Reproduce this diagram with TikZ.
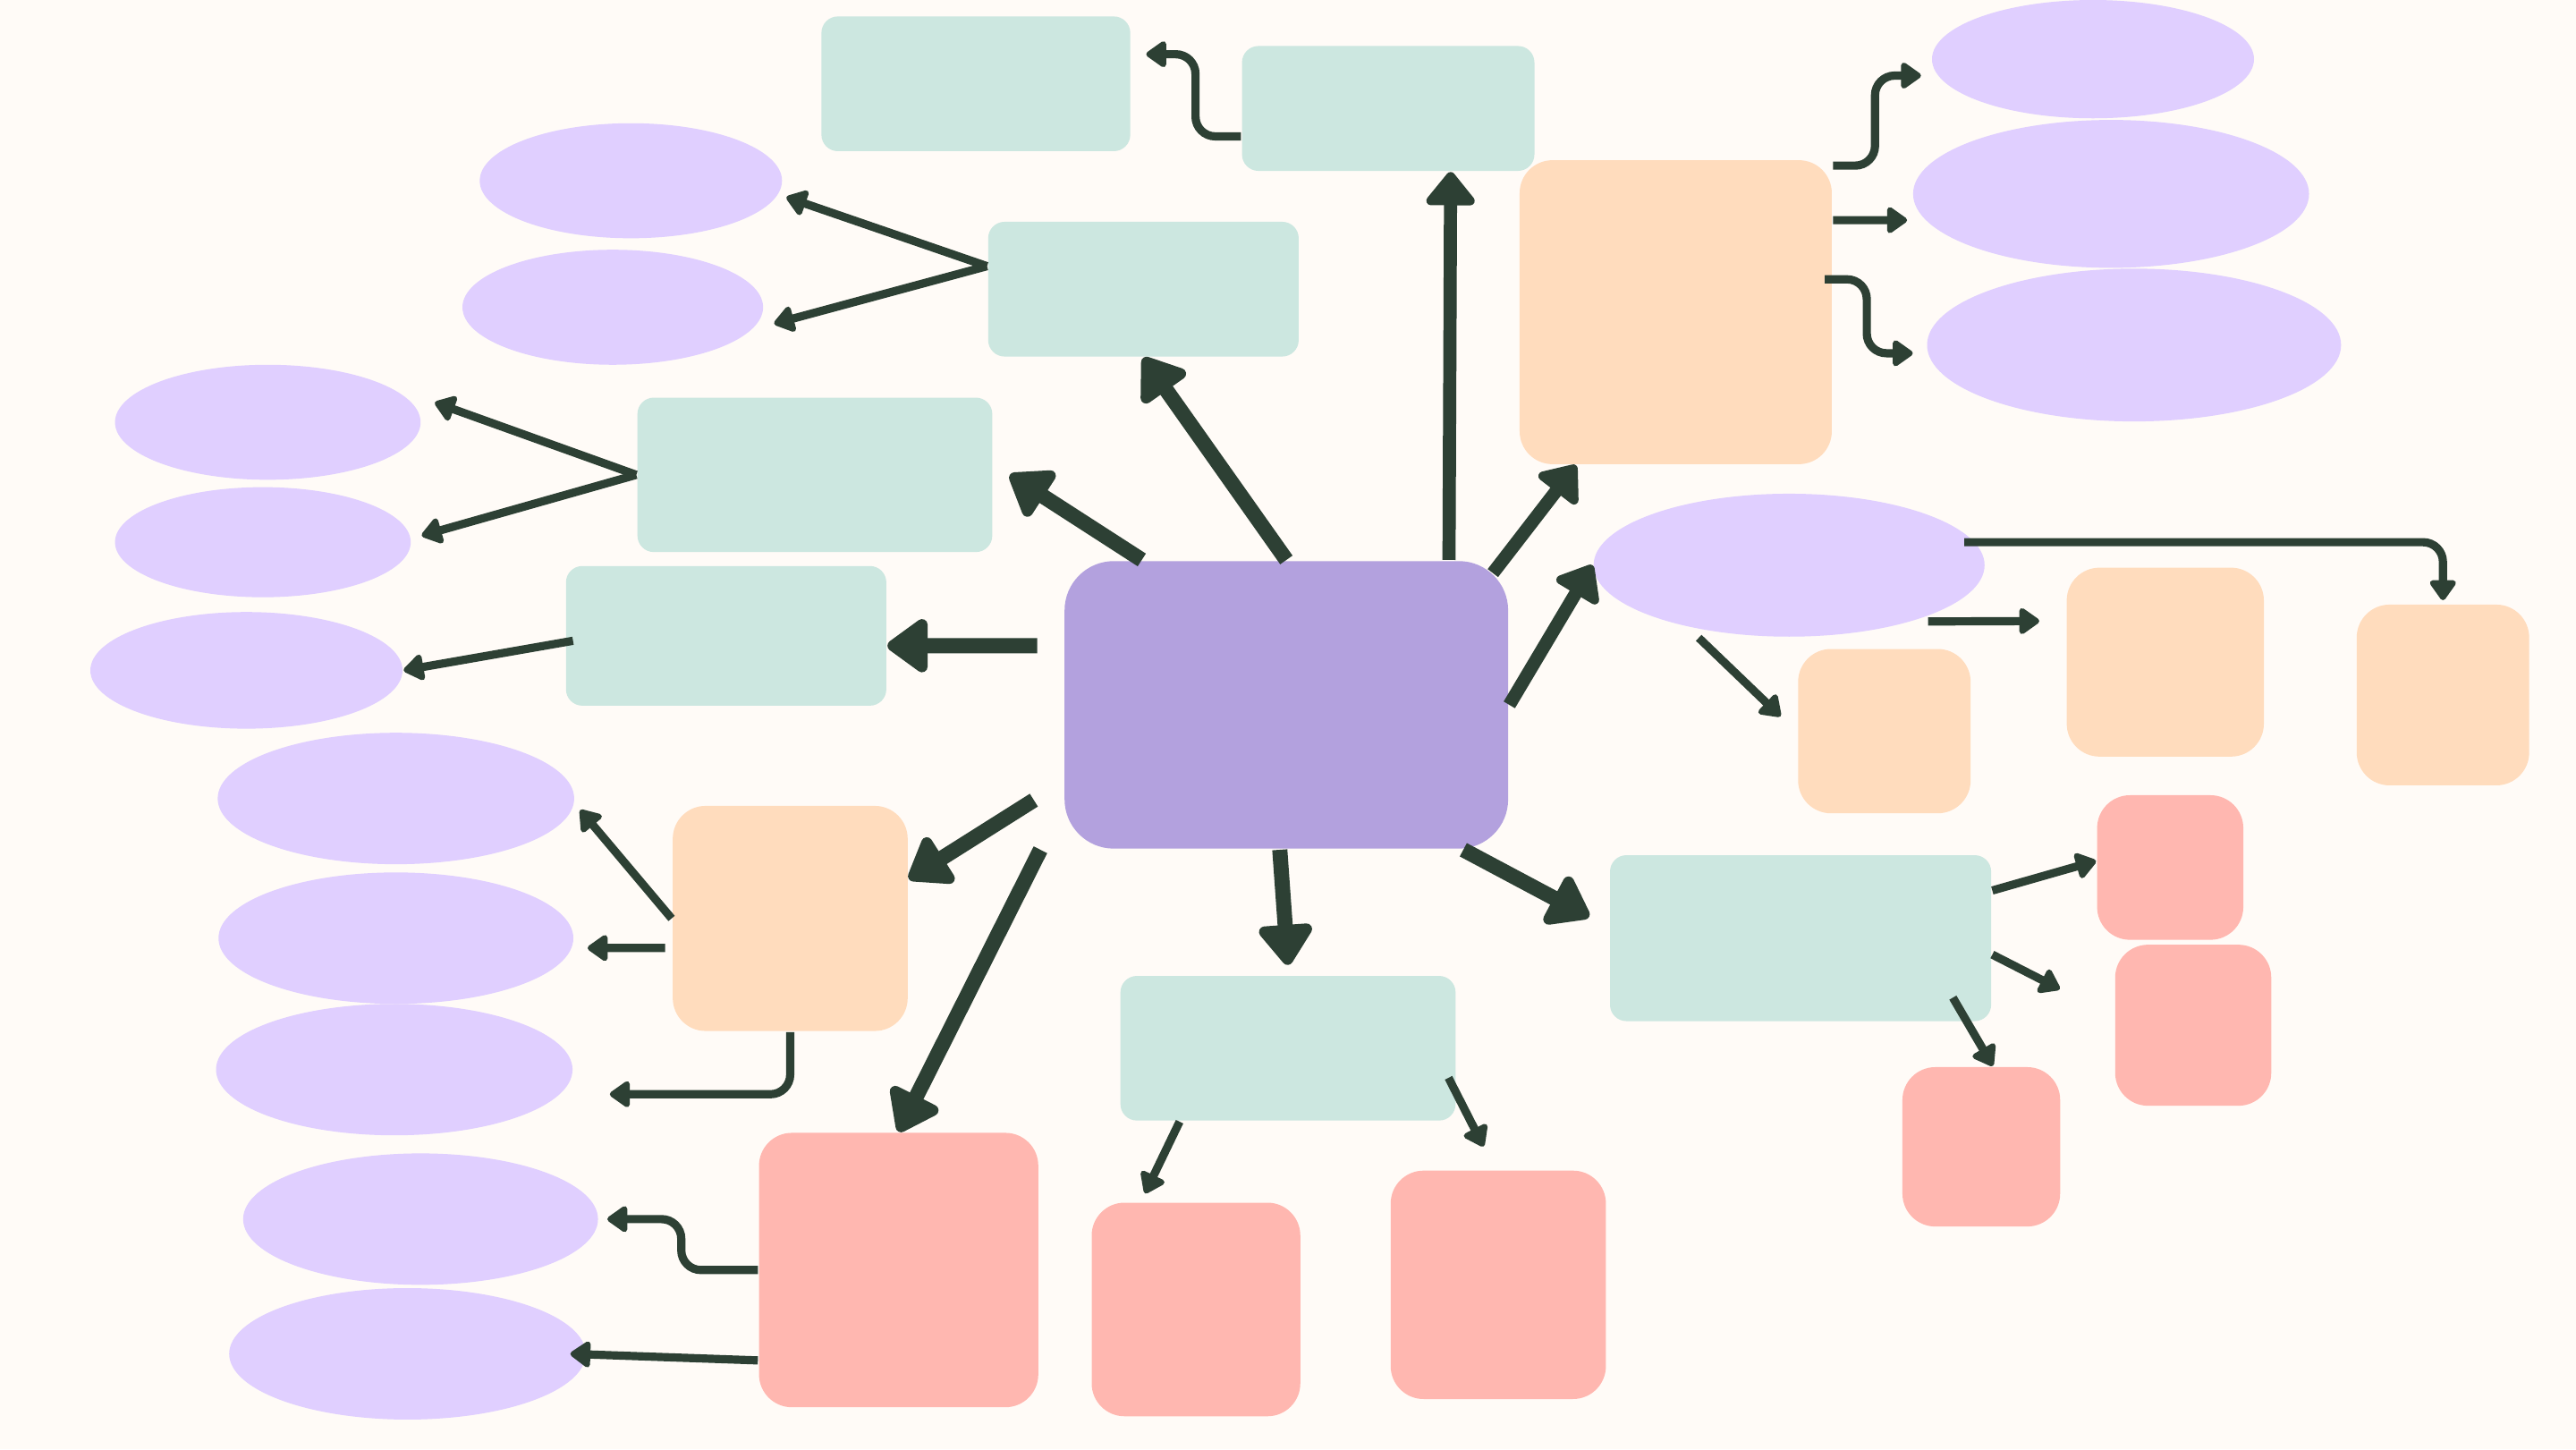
\documentclass[tikz,border=0pt]{standalone}
\usetikzlibrary{arrows.meta, shapes.geometric}
\definecolor{paper}{HTML}{FFFBF7}
\definecolor{ink}{HTML}{2D4034}
\definecolor{hubfill}{HTML}{B3A1DE}
\definecolor{mintfill}{HTML}{CCE7E0}
\definecolor{lilacfill}{HTML}{E0CFFF}
\definecolor{peachfill}{HTML}{FFDCBD}
\definecolor{salmonfill}{HTML}{FFB7B0}
\tikzset{
  hub/.style={rectangle,fill=hubfill,rounded corners=3mm,inner sep=0pt},
  mint/.style={rectangle,fill=mintfill,rounded corners=1mm,inner sep=0pt},
  peach/.style={rectangle,fill=peachfill,rounded corners=2mm,inner sep=0pt},
  salmon/.style={rectangle,fill=salmonfill,rounded corners=2mm,inner sep=0pt},
  lilac/.style={ellipse,fill=lilacfill,inner sep=0pt},
  heavy/.style={-{Triangle[round,length=2.7mm,width=3.7mm]},draw=ink,line width=0.92mm},
  medium/.style={-{Triangle[round,length=2.2mm,width=3.4mm]},draw=ink,line width=0.8mm},
  light/.style={-{Triangle[round,length=1.35mm,width=1.8mm]},draw=ink,line width=0.5mm},
  elbow/.style={light,rounded corners=1.2mm}
}

\begin{document}
\begin{tikzpicture}[x=0.1mm, y=-0.1mm]
\fill[paper] (0,0) rectangle (1568,882);
\node[hub, minimum width=27mm, minimum height=17.5mm] (c) at (783,429) {};
\node[mint, minimum width=18.8mm, minimum height=8.2mm] (m1) at (594,51) {};
\node[mint, minimum width=17.8mm, minimum height=7.6mm] (m2) at (845,66) {};
\node[mint, minimum width=18.9mm, minimum height=8.2mm] (m3) at (696,176) {};
\node[mint, minimum width=21.6mm, minimum height=9.4mm] (m4) at (496,289) {};
\node[mint, minimum width=19.5mm, minimum height=8.5mm] (m5) at (442,387) {};
\node[mint, minimum width=20.4mm, minimum height=8.8mm] (m6) at (784,638) {};
\node[mint, minimum width=23.2mm, minimum height=10.1mm] (m7) at (1096,571) {};
\node[peach, minimum width=19mm, minimum height=18.5mm] (p1) at (1020,190) {};
\node[peach, minimum width=14.3mm, minimum height=13.7mm] (p2) at (481,559) {};
\node[peach, minimum width=10.5mm, minimum height=10mm] (p3) at (1147,445) {};
\node[peach, minimum width=12mm, minimum height=11.5mm] (p4) at (1318,403) {};
\node[peach, minimum width=10.5mm, minimum height=11mm] (p5) at (1487,423) {};
\node[salmon, minimum width=17mm, minimum height=16.7mm] (s1) at (547,773) {};
\node[salmon, minimum width=12.7mm, minimum height=13mm] (s2) at (728,797) {};
\node[salmon, minimum width=13.1mm, minimum height=13.9mm] (s3) at (912,782) {};
\node[salmon, minimum width=8.9mm, minimum height=8.8mm] (s4) at (1321,528) {};
\node[salmon, minimum width=9.5mm, minimum height=9.8mm] (s5) at (1335,624) {};
\node[salmon, minimum width=9.6mm, minimum height=9.7mm] (s6) at (1206,698) {};
\node[lilac, minimum width=18.4mm, minimum height=7mm] (l1) at (384,110) {};
\node[lilac, minimum width=18.3mm, minimum height=7mm] (l2) at (373,187) {};
\node[lilac, minimum width=18.6mm, minimum height=7mm] (l3) at (163,257) {};
\node[lilac, minimum width=18mm, minimum height=6.7mm] (l4) at (160,330) {};
\node[lilac, minimum width=19mm, minimum height=7.1mm] (l5) at (150,408) {};
\node[lilac, minimum width=21.7mm, minimum height=8mm] (l6) at (241,486) {};
\node[lilac, minimum width=21.6mm, minimum height=8mm] (l7) at (241,571) {};
\node[lilac, minimum width=21.7mm, minimum height=8mm] (l8) at (240,651) {};
\node[lilac, minimum width=21.6mm, minimum height=8mm] (l9) at (256,742) {};
\node[lilac, minimum width=21.7mm, minimum height=8mm] (l10) at (248,824) {};
\node[lilac, minimum width=19.6mm, minimum height=7.2mm] (l11) at (1274,36) {};
\node[lilac, minimum width=24.1mm, minimum height=9mm] (l12) at (1285,118) {};
\node[lilac, minimum width=25.2mm, minimum height=9.3mm] (l13) at (1299,210) {};
\node[lilac, minimum width=23.8mm, minimum height=8.7mm] (l14) at (1089,344) {};
\draw[heavy] (c.north) -- (m3.south);
\draw[heavy] ([xshift=-8.8mm]c.north) -- ([xshift=1mm]m4.east);
\draw[heavy] ([shift={(-1.6mm,3.6mm)}]c.west) -- ([yshift=-0.6mm]m5.east);
\draw[heavy] ([shift={(-1.8mm,-5.8mm)}]c.west) -- ([yshift=2.4mm]p2.east);
\draw[heavy] ([xshift=-1.4mm]c.south west) -- (s1.north);
\draw[heavy] ([xshift=-0.4mm]c.south) -- ([yshift=0.6mm]m6.north);
\draw[heavy] ([xshift=-2.8mm]c.south east) -- ([shift={(-1.2mm,1.3mm)}]m7.west);
\draw[medium] (c.east) -- (l14.west);
\draw[medium] ([shift={(-1mm,-0.8mm)}]c.north east) -- ([xshift=3.5mm]p1.south west);
\draw[medium] ([xshift=9.9mm]c.north) -- ([xshift=3.8mm]m2.south);
\draw[elbow] ([yshift=-1.7mm]m2.west) -| ([shift={(3.9mm,1.8mm)}]m1.east) -- ([shift={(0.9mm,1.8mm)}]m1.east);
\draw[elbow] ([yshift=-0.4mm]p1.north east) -| ([shift={(-3.4mm,-1mm)}]l11.west) -- ([shift={(-0.6mm,-1mm)}]l11.west);
\draw[light] ([yshift=5.6mm]p1.east) -- ([shift={(-0.3mm,-1.6mm)}]l12.west);
\draw[elbow] ([shift={(-0.5mm,2mm)}]p1.east) -| ([shift={(-3.6mm,-0.5mm)}]l13.west) -- ([shift={(-0.8mm,-0.5mm)}]l13.west);
\draw[elbow] ([shift={(-1.3mm,1.4mm)}]l14.east) -| ([yshift=0.2mm]p5.north);
\draw[light] ([yshift=-0.3mm]l14.south east) -- ([shift={(-1.6mm,2.5mm)}]p4.west);
\draw[light] ([xshift=-5.5mm]l14.south) -- ([shift={(-1mm,0.9mm)}]p3.west);
\draw[light] ([yshift=2.9mm]m7.east) -- ([yshift=0.4mm]s4.west);
\draw[light] ([yshift=-1mm]m7.east) -- ([shift={(-3.3mm,2.2mm)}]s5.west);
\draw[light] ([shift={(-2.4mm,1.5mm)}]m7.south east) -- ([xshift=0.7mm]s6.north);
\draw[light] ([xshift=-6.6mm]m6.south) -- ([shift={(-3.1mm,0.5mm)}]s2.north);
\draw[light] ([shift={(-0.5mm,-1.8mm)}]m6.east) -- ([shift={(-0.9mm,1.4mm)}]s3.north);
\draw[elbow] (s1.west) -| ([xshift=5mm]l9.east) -- ([xshift=0.5mm]l9.east);
\draw[light] ([yshift=-5.5mm]s1.west) -- ([xshift=-1mm]l10.east);
\draw[light] (p2.west) -- ([shift={(0.3mm,-0.7mm)}]l6.east);
\draw[light] ([shift={(-0.4mm,-1.8mm)}]p2.west) -- ([shift={(0.8mm,-0.6mm)}]l7.east);
\draw[elbow] (p2.south) |- ([shift={(2.2mm,-1.5mm)}]l8.east);
\draw[light] ([shift={(0.5mm,-0.3mm)}]m5.west) -- (l5.east);
\draw[light] (m4.west) -- ([shift={(0.8mm,1.2mm)}]l3.east);
\draw[light] (m4.west) -- ([shift={(0.6mm,0.4mm)}]l4.east);
\draw[light] ([yshift=1.4mm]m3.west) -- ([shift={(0.2mm,-1mm)}]l1.east);
\draw[light] ([yshift=1.4mm]m3.west) -- ([shift={(0.6mm,-1mm)}]l2.east);
\end{tikzpicture}
\end{document}
